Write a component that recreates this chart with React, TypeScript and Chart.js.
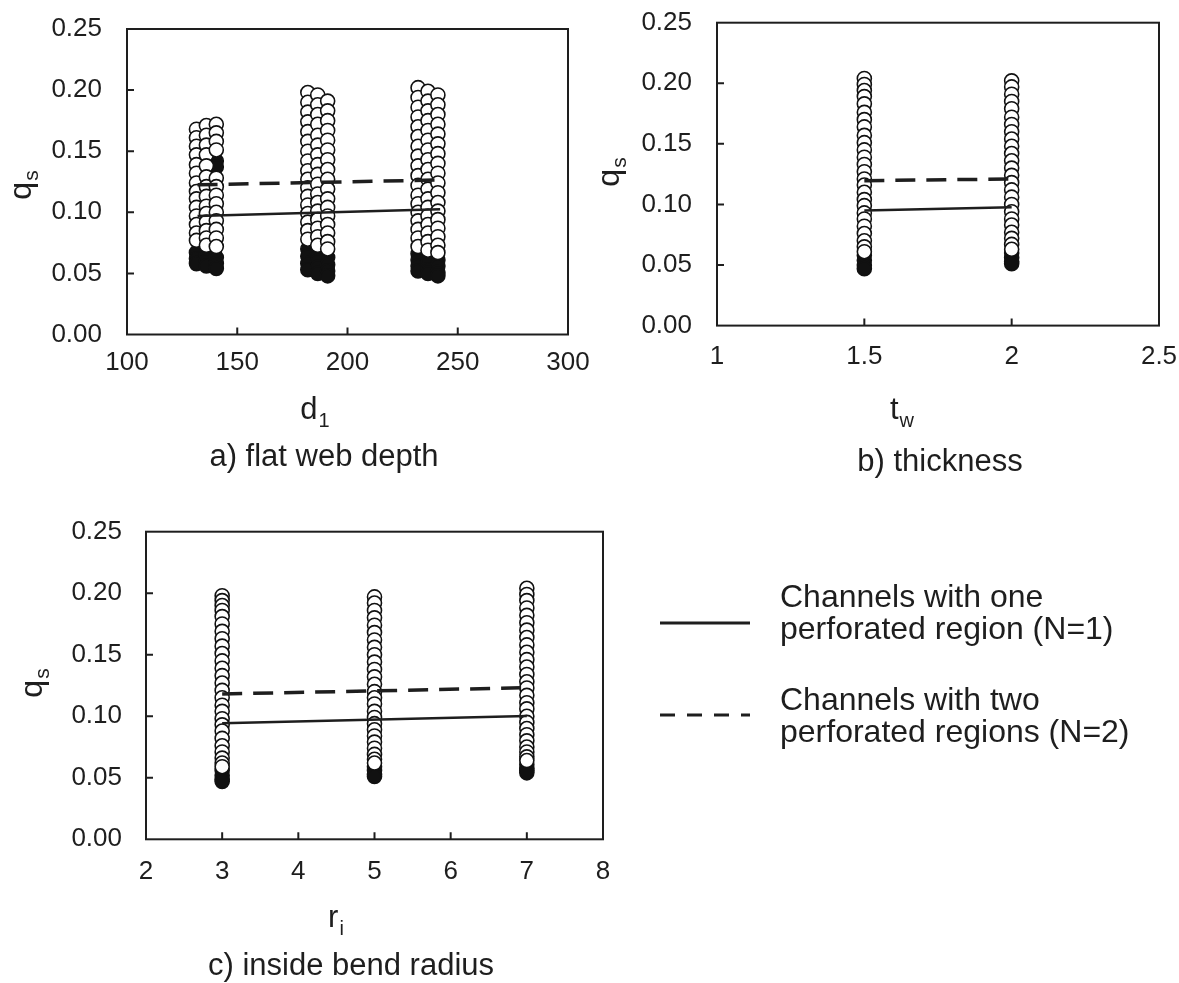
import React, { useEffect, useRef } from 'react';
import { Chart, registerables } from 'chart.js';

Chart.register(...registerables);

const FONT = '"Liberation Sans", Arial, sans-serif';
const INK = '#1e1e1e';

// ---------- tick values ----------
const Y_TICKS = [0, 0.05, 0.1, 0.15, 0.2, 0.25];
const A_X_TICKS = [100, 150, 200, 250, 300];
const B_X_TICKS = [1, 1.5, 2, 2.5];
const C_X_TICKS = [2, 3, 4, 5, 6, 7, 8];

// ---------- a) flat web depth ----------
const A_COL_X = [131.5, 136, 140.5, 182, 186.5, 191, 232, 236.5, 241];
const A_WHITE_Y = [
  [0.168, 0.161, 0.154, 0.147, 0.139, 0.132, 0.124, 0.117, 0.111, 0.104, 0.097, 0.090, 0.083, 0.077],
  [0.171, 0.163, 0.155, 0.147, 0.138, 0.129, 0.121, 0.113, 0.105, 0.099, 0.092, 0.085, 0.079, 0.073],
  [0.172, 0.165, 0.158, 0.151, 0.128, 0.121, 0.114, 0.107, 0.100, 0.093, 0.086, 0.079, 0.072],
  [0.198, 0.190, 0.182, 0.174, 0.166, 0.158, 0.150, 0.142, 0.134, 0.127, 0.120, 0.113, 0.106, 0.099, 0.092, 0.085, 0.078],
  [0.196, 0.188, 0.180, 0.172, 0.163, 0.155, 0.147, 0.139, 0.131, 0.123, 0.115, 0.108, 0.101, 0.094, 0.087, 0.080, 0.073],
  [0.191, 0.183, 0.175, 0.167, 0.159, 0.151, 0.143, 0.135, 0.127, 0.119, 0.111, 0.104, 0.097, 0.090, 0.083, 0.076, 0.070],
  [0.202, 0.194, 0.186, 0.178, 0.170, 0.162, 0.154, 0.146, 0.138, 0.130, 0.122, 0.114, 0.107, 0.100, 0.093, 0.086, 0.079, 0.072],
  [0.199, 0.191, 0.183, 0.175, 0.167, 0.159, 0.151, 0.143, 0.135, 0.127, 0.119, 0.111, 0.104, 0.097, 0.090, 0.083, 0.076, 0.069],
  [0.196, 0.188, 0.180, 0.172, 0.164, 0.156, 0.148, 0.140, 0.132, 0.124, 0.116, 0.108, 0.101, 0.094, 0.087, 0.080, 0.073, 0.067],
];
const A_BLACK_Y = [
  [0.067, 0.062, 0.058],
  [0.065, 0.060, 0.056],
  [0.063, 0.058, 0.054, 0.142, 0.137],
  [0.070, 0.064, 0.058, 0.053],
  [0.066, 0.060, 0.055, 0.050],
  [0.063, 0.057, 0.052, 0.048],
  [0.066, 0.061, 0.056, 0.052],
  [0.063, 0.058, 0.053, 0.050],
  [0.061, 0.056, 0.051, 0.048],
];
const A_LINE_X = [132, 242];
const A_N1_Y = [0.097, 0.1025];
const A_N2_Y = [0.1225, 0.1265];

// ---------- b) thickness ----------
const B_COL_X = [1.5, 2];
const B_WHITE_Y = [
  [0.204, 0.199, 0.194, 0.189, 0.183, 0.176, 0.170, 0.164, 0.157, 0.151, 0.145, 0.139, 0.133, 0.127, 0.121, 0.116, 0.110, 0.104, 0.099, 0.093, 0.088, 0.082, 0.076, 0.070, 0.065, 0.061],
  [0.202, 0.197, 0.191, 0.185, 0.179, 0.172, 0.166, 0.160, 0.154, 0.148, 0.142, 0.136, 0.130, 0.124, 0.118, 0.112, 0.106, 0.100, 0.094, 0.088, 0.083, 0.077, 0.072, 0.067, 0.063],
];
const B_BLACK_Y = [
  [0.058, 0.054, 0.050, 0.047],
  [0.060, 0.056, 0.053, 0.051],
];
const B_LINE_X = [1.5, 2];
const B_N1_Y = [0.095, 0.0976];
const B_N2_Y = [0.1196, 0.121];

// ---------- c) inside bend radius ----------
const C_COL_X = [3, 5, 7];
const C_WHITE_Y = [
  [0.198, 0.194, 0.190, 0.186, 0.181, 0.175, 0.169, 0.163, 0.157, 0.151, 0.145, 0.139, 0.133, 0.127, 0.121, 0.115, 0.109, 0.104, 0.098, 0.093, 0.088, 0.082, 0.076, 0.071, 0.066, 0.062, 0.059],
  [0.197, 0.192, 0.186, 0.180, 0.174, 0.168, 0.162, 0.156, 0.150, 0.144, 0.138, 0.132, 0.126, 0.120, 0.115, 0.110, 0.104, 0.099, 0.094, 0.089, 0.084, 0.079, 0.074, 0.069, 0.065, 0.062],
  [0.204, 0.199, 0.194, 0.188, 0.182, 0.176, 0.170, 0.164, 0.158, 0.152, 0.146, 0.140, 0.134, 0.128, 0.123, 0.117, 0.111, 0.106, 0.100, 0.095, 0.090, 0.085, 0.080, 0.075, 0.071, 0.067, 0.064],
];
const C_BLACK_Y = [
  [0.056, 0.052, 0.049, 0.047],
  [0.059, 0.056, 0.053, 0.051],
  [0.061, 0.058, 0.056, 0.054],
];
const C_LINE_X = [3, 7];
const C_N1_Y = [0.0943, 0.1002];
const C_N2_Y = [0.1181, 0.1232];

// ---------- legend text ----------
const LEGEND_N1 = ['Channels with one', 'perforated region (N=1)'];
const LEGEND_N2 = ['Channels with two', 'perforated regions (N=2)'];

function pts(colX: number[], ys: number[][]) {
  const out: { x: number; y: number }[] = [];
  colX.forEach((x, i) => ys[i].forEach((y) => out.push({ x, y })));
  return out;
}
function linePts(xs: number[], ys: number[]) {
  return xs.map((x, i) => ({ x, y: ys[i] }));
}

function drawSub(ctx: CanvasRenderingContext2D, main: string, sub: string, cx: number, cy: number, size: number, rot: boolean) {
  ctx.save();
  ctx.translate(cx, cy);
  if (rot) ctx.rotate(-Math.PI / 2);
  ctx.fillStyle = INK;
  ctx.textAlign = 'left';
  ctx.textBaseline = 'alphabetic';
  const subSize = Math.round(size * 0.65);
  ctx.font = `${size}px ${FONT}`;
  const mw = ctx.measureText(main).width;
  ctx.font = `${subSize}px ${FONT}`;
  const sw = ctx.measureText(sub).width;
  const x0 = -(mw + sw + 1) / 2;
  ctx.font = `${size}px ${FONT}`;
  ctx.fillText(main, x0, size * 0.3);
  ctx.font = `${subSize}px ${FONT}`;
  ctx.fillText(sub, x0 + mw + 1, size * 0.3 + size * 0.24);
  ctx.restore();
}

const decorPlugin = {
  id: 'decor',
  afterDraw(chart: any, _args: any, opts: any) {
    const { ctx, chartArea: a, scales } = chart;
    const x = scales.x;
    const y = scales.y;
    ctx.save();
    ctx.strokeStyle = INK;
    ctx.lineWidth = 2;
    ctx.strokeRect(a.left, a.top, a.right - a.left, a.bottom - a.top);
    ctx.beginPath();
    for (const v of opts.yTicks) {
      if (v <= y.min || v >= y.max) continue;
      const py = y.getPixelForValue(v);
      ctx.moveTo(a.left, py);
      ctx.lineTo(a.left + 7, py);
    }
    for (const v of opts.xTicks) {
      if (v <= x.min || v >= x.max) continue;
      const px = x.getPixelForValue(v);
      ctx.moveTo(px, a.bottom);
      ctx.lineTo(px, a.bottom - 7);
    }
    ctx.stroke();
    ctx.restore();

    drawSub(ctx, 'q', 's', opts.yTitlePos[0], opts.yTitlePos[1], 32, true);
    drawSub(ctx, opts.xTitle[0], opts.xTitle[1], opts.xTitlePos[0], opts.xTitlePos[1], 31, false);

    ctx.save();
    ctx.fillStyle = INK;
    ctx.font = `31px ${FONT}`;
    ctx.textAlign = 'center';
    ctx.textBaseline = 'alphabetic';
    ctx.fillText(opts.caption, opts.captionPos[0], opts.captionPos[1]);
    ctx.restore();

    if (opts.legend) {
      const L = opts.legend;
      ctx.save();
      ctx.strokeStyle = INK;
      ctx.lineWidth = 3;
      ctx.beginPath();
      ctx.moveTo(L.x0, L.y1);
      ctx.lineTo(L.x1, L.y1);
      ctx.stroke();
      ctx.setLineDash([15, 12]);
      ctx.beginPath();
      ctx.moveTo(L.x0, L.y2);
      ctx.lineTo(L.x1, L.y2);
      ctx.stroke();
      ctx.setLineDash([]);
      ctx.fillStyle = INK;
      ctx.font = `32px ${FONT}`;
      ctx.textAlign = 'left';
      ctx.textBaseline = 'alphabetic';
      ctx.fillText(LEGEND_N1[0], L.tx, L.b1);
      ctx.fillText(LEGEND_N1[1], L.tx, L.b1 + 32);
      ctx.fillText(LEGEND_N2[0], L.tx, L.b2);
      ctx.fillText(LEGEND_N2[1], L.tx, L.b2 + 32);
      ctx.restore();
    }
  },
};

type Cfg = {
  w: number; h: number;
  area: { left: number; top: number; right: number; bottom: number };
  xMin: number; xMax: number; xTicks: number[];
  xPad: number; yPad: number;
  colX: number[]; whiteY: number[][]; blackY: number[][];
  lineX: number[]; n1Y: number[]; n2Y: number[];
  decor: any;
};

function buildChart(canvas: HTMLCanvasElement, c: Cfg) {
  const tickFont = { family: FONT, size: 26 };
  return new Chart(canvas, {
    type: 'scatter',
    data: {
      datasets: [
        {
          data: linePts(c.lineX, c.n1Y), showLine: true, pointRadius: 0,
          borderColor: INK, borderWidth: 2.5, order: 0,
        } as any,
        {
          data: linePts(c.lineX, c.n2Y), showLine: true, pointRadius: 0,
          borderColor: INK, borderWidth: 3.5, borderDash: [20, 11], order: 0,
        } as any,
        {
          data: pts(c.colX, c.whiteY), pointRadius: 7, pointBackgroundColor: '#ffffff',
          pointBorderColor: '#111111', pointBorderWidth: 1.6, order: 1,
        } as any,
        {
          data: pts(c.colX, c.blackY), pointRadius: 7, pointBackgroundColor: '#111111',
          pointBorderColor: '#111111', pointBorderWidth: 1.6, order: 2,
        } as any,
      ],
    },
    options: {
      animation: false,
      responsive: false,
      events: [],
      layout: { padding: { left: 0, top: c.area.top, right: c.w - c.area.right, bottom: 0 } },
      plugins: { legend: { display: false }, tooltip: { enabled: false }, decor: c.decor } as any,
      scales: {
        x: {
          type: 'linear', min: c.xMin, max: c.xMax,
          afterBuildTicks: (s: any) => { s.ticks = c.xTicks.map((v) => ({ value: v })); },
          afterFit: (s: any) => { s.height = c.h - c.area.bottom; s.paddingLeft = 0; s.paddingRight = 0; },
          grid: { display: false, drawTicks: false },
          border: { display: false },
          ticks: {
            padding: c.xPad, font: tickFont, color: INK, autoSkip: false, maxRotation: 0,
            callback: (v: any) => String(Math.round(Number(v) * 100) / 100),
          },
        },
        y: {
          type: 'linear', min: 0, max: 0.25,
          afterBuildTicks: (s: any) => { s.ticks = Y_TICKS.map((v) => ({ value: v })); },
          afterFit: (s: any) => { s.width = c.area.left; s.paddingTop = 0; s.paddingBottom = 0; },
          grid: { display: false, drawTicks: false },
          border: { display: false },
          ticks: {
            padding: c.yPad, font: tickFont, color: INK, autoSkip: false,
            callback: (v: any) => Number(v).toFixed(2),
          },
        },
      },
    } as any,
    plugins: [decorPlugin],
  });
}

const CFG_A: Cfg = {
  w: 590, h: 480,
  area: { left: 127, top: 29, right: 568, bottom: 334.5 },
  xMin: 100, xMax: 300, xTicks: A_X_TICKS, xPad: 13, yPad: 25,
  colX: A_COL_X, whiteY: A_WHITE_Y, blackY: A_BLACK_Y,
  lineX: A_LINE_X, n1Y: A_N1_Y, n2Y: A_N2_Y,
  decor: {
    yTicks: Y_TICKS, xTicks: A_X_TICKS,
    yTitlePos: [21, 185], xTitle: ['d', '1'], xTitlePos: [315, 410],
    caption: 'a) flat web depth', captionPos: [324, 466],
  },
};
const CFG_B: Cfg = {
  w: 589, h: 480,
  area: { left: 127, top: 22.7, right: 569, bottom: 325.6 },
  xMin: 1, xMax: 2.5, xTicks: B_X_TICKS, xPad: 16, yPad: 25,
  colX: B_COL_X, whiteY: B_WHITE_Y, blackY: B_BLACK_Y,
  lineX: B_LINE_X, n1Y: B_N1_Y, n2Y: B_N2_Y,
  decor: {
    yTicks: Y_TICKS, xTicks: B_X_TICKS,
    yTitlePos: [19, 172], xTitle: ['t', 'w'], xTitlePos: [312, 410],
    caption: 'b) thickness', captionPos: [350, 471],
  },
};
const CFG_C: Cfg = {
  w: 1179, h: 503,
  area: { left: 146, top: 51.7, right: 603, bottom: 359.3 },
  xMin: 2, xMax: 8, xTicks: C_X_TICKS, xPad: 17, yPad: 24,
  colX: C_COL_X, whiteY: C_WHITE_Y, blackY: C_BLACK_Y,
  lineX: C_LINE_X, n1Y: C_N1_Y, n2Y: C_N2_Y,
  decor: {
    yTicks: Y_TICKS, xTicks: C_X_TICKS,
    yTitlePos: [32, 203], xTitle: ['r', 'i'], xTitlePos: [336, 438],
    caption: 'c) inside bend radius', captionPos: [351, 495],
    legend: { x0: 660, x1: 750, y1: 143, y2: 235, tx: 780, b1: 127, b2: 230 },
  },
};

function Panel({ cfg, left, top }: { cfg: Cfg; left: number; top: number }) {
  const ref = useRef<HTMLCanvasElement | null>(null);
  useEffect(() => {
    if (!ref.current) return;
    const ch = buildChart(ref.current, cfg);
    return () => ch.destroy();
  }, [cfg]);
  return (
    <canvas
      ref={ref}
      width={cfg.w}
      height={cfg.h}
      style={{ position: 'absolute', left, top, width: cfg.w, height: cfg.h }}
    />
  );
}

export default function App() {
  return (
    <div
      style={{
        position: 'absolute', left: 0, top: 0, width: 1179, height: 983,
        overflow: 'hidden', background: '#ffffff',
      }}
    >
      <Panel cfg={CFG_A} left={0} top={0} />
      <Panel cfg={CFG_B} left={590} top={0} />
      <Panel cfg={CFG_C} left={0} top={480} />
    </div>
  );
}
